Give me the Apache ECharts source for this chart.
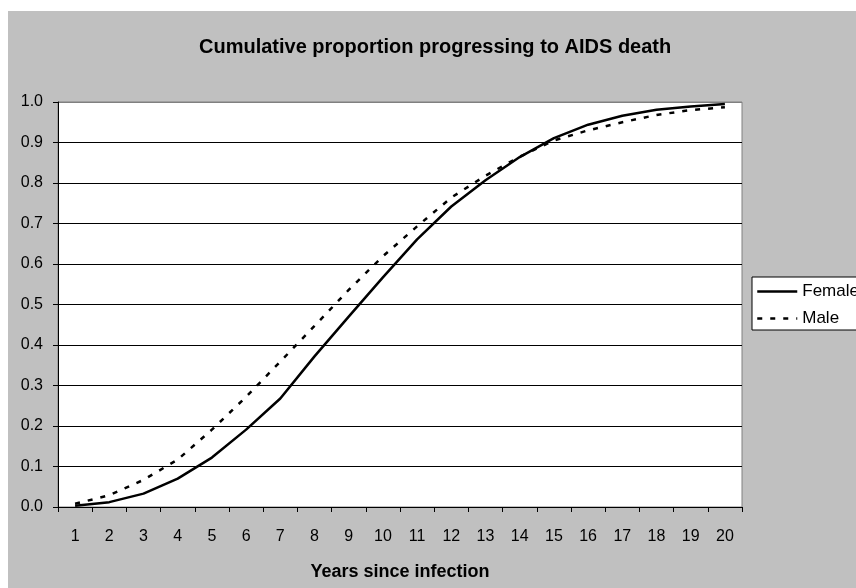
<!DOCTYPE html>
<html>
<head>
<meta charset="utf-8">
<script src="https://cdn.jsdelivr.net/npm/echarts@6/dist/echarts.min.js"></script>
<style>
    html, body { margin: 0; padding: 0; background: #fff; }
    #chart { position: absolute; left: 8px; top: 11px; width: 848px; height: 577px; }
</style>
</head>
<body>
<div id="chart"></div>
<script>
var years = ['1', '2', '3', '4', '5', '6', '7', '8', '9', '10',
    '11', '12', '13', '14', '15', '16', '17', '18', '19', '20'];
var female = [0.003, 0.012, 0.033, 0.07, 0.122, 0.191, 0.268, 0.372, 0.47, 0.567,
    0.661, 0.742, 0.807, 0.864, 0.911, 0.944, 0.966, 0.981, 0.989, 0.995];
var male = [0.008, 0.029, 0.067, 0.117, 0.191, 0.272, 0.359, 0.447, 0.536, 0.619,
    0.693, 0.764, 0.818, 0.865, 0.905, 0.93, 0.95, 0.968, 0.98, 0.987];

var font = 'Liberation Sans, Arial, sans-serif';
// 0.0 .. 0.9 black, top edge gray like the plot border
var gridColors = ['#000', '#000', '#000', '#000', '#000', '#000', '#000', '#000', '#000', '#000', '#808080'];

var chart = echarts.init(document.getElementById('chart'));
var option = {
    backgroundColor: '#c0c0c0',
    animation: false,
    title: {
        text: 'Cumulative proportion progressing to AIDS death',
        left: 191,
        top: 26,
        padding: 0,
        textStyle: { fontFamily: font, fontSize: 20, fontWeight: 'bold', color: '#000' }
    },
    grid: {
        show: true,
        left: 50,
        top: 91,
        right: 114,
        bottom: 81,
        backgroundColor: '#fff',
        borderColor: '#808080',
        borderWidth: 1
    },
    legend: {
        orient: 'vertical',
        left: 744,
        top: 266,
        padding: [6, 4, 3, 4],
        itemWidth: 40,
        itemHeight: 14,
        itemGap: 10,
        backgroundColor: '#fff',
        borderColor: '#000',
        borderWidth: 1,
        borderRadius: 0,
        // hide the marker dot, keep only the line sample
        itemStyle: { color: 'rgba(0,0,0,0)', borderWidth: 0 },
        lineStyle: { width: 2.5 },
        textStyle: { fontFamily: font, fontSize: 17, color: '#000' },
        data: ['Female', 'Male']
    },
    xAxis: {
        type: 'category',
        data: years,
        boundaryGap: true,
        name: 'Years since infection',
        nameLocation: 'middle',
        nameGap: 56,
        nameTextStyle: { fontFamily: font, fontSize: 18, fontWeight: 'bold', color: '#000' },
        axisLine: { lineStyle: { color: '#000', width: 1 } },
        axisTick: { show: true, inside: false, length: 5, lineStyle: { color: '#000' } },
        axisLabel: { fontFamily: font, fontSize: 16, color: '#000', margin: 22, interval: 0 },
        splitLine: { show: false }
    },
    yAxis: {
        type: 'value',
        min: 0,
        max: 1,
        interval: 0.1,
        axisLine: { show: true, lineStyle: { color: '#000', width: 1 } },
        axisTick: { show: true, inside: false, length: 5, lineStyle: { color: '#000' } },
        axisLabel: {
            fontFamily: font, fontSize: 16, color: '#000', margin: 15,
            formatter: function (v) { return v.toFixed(1); }
        },
        splitLine: { show: true, lineStyle: { color: gridColors, width: 1 } }
    },
    series: [
        {
            name: 'Female',
            type: 'line',
            data: female,
            symbol: 'none',
            lineStyle: { color: '#000', width: 2.5, type: 'solid' },
            itemStyle: { color: '#000' },
            z: 3
        },
        {
            name: 'Male',
            type: 'line',
            data: male,
            symbol: 'none',
            lineStyle: { color: '#000', width: 2.5, type: [5, 8] },
            itemStyle: { color: '#000' },
            z: 2
        }
    ]
};
chart.setOption(option);
</script>
</body>
</html>
